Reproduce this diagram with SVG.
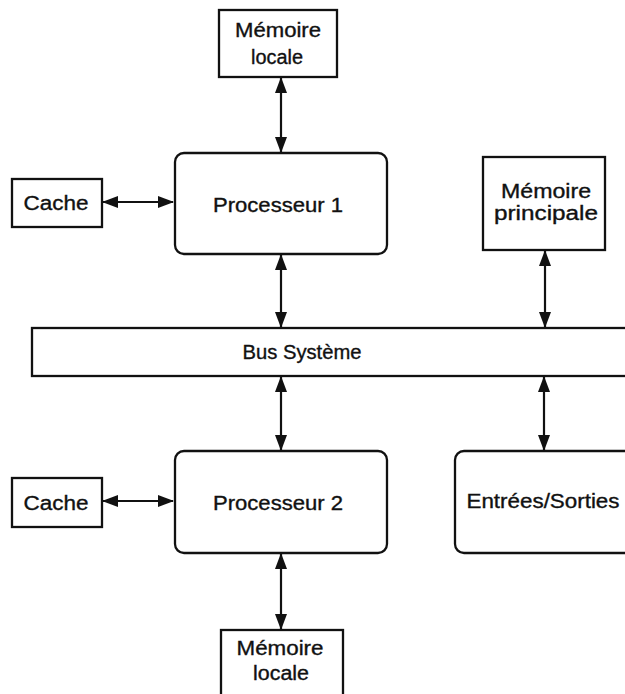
<svg xmlns="http://www.w3.org/2000/svg" width="625" height="694" viewBox="0 0 625 694">
<style>
.box{fill:#fff;stroke:#111;stroke-width:2.3}
.t{font-family:"Liberation Sans",Arial,sans-serif;font-size:20px;fill:#111;stroke:#111;stroke-width:0.35;text-anchor:middle}
.c{stroke:#111;stroke-width:2.2;fill:none;marker-start:url(#ah);marker-end:url(#ah)}
</style>
<defs>
<marker id="ah" viewBox="0 0 16 12" refX="15" refY="6" markerWidth="16" markerHeight="12" markerUnits="userSpaceOnUse" orient="auto-start-reverse">
<path d="M0,0 L16,6 L0,12 Z" fill="#111"/>
</marker>
</defs>
<rect width="625" height="694" fill="#fff"/>
<g id="connectors">
<line class="c" x1="281" y1="78" x2="281" y2="152"/>
<line class="c" x1="281" y1="255" x2="281" y2="327"/>
<line class="c" x1="545" y1="251" x2="545" y2="327"/>
<line class="c" x1="281" y1="377" x2="281" y2="450"/>
<line class="c" x1="544" y1="377" x2="544" y2="450"/>
<line class="c" x1="103" y1="202" x2="173" y2="202"/>
<line class="c" x1="103" y1="501" x2="173" y2="501"/>
<line class="c" x1="281" y1="554" x2="281" y2="629"/>
</g>
<g id="memoire-locale-1">
<rect class="box" x="219" y="10" width="118" height="67"/>
<text class="t" x="278" y="37" textLength="86" lengthAdjust="spacingAndGlyphs">Mémoire</text>
<text class="t" x="277" y="64" textLength="52" lengthAdjust="spacingAndGlyphs">locale</text>
</g>
<g id="cache-1">
<rect class="box" x="12" y="179" width="90" height="48"/>
<text class="t" x="56" y="210" textLength="65" lengthAdjust="spacingAndGlyphs">Cache</text>
</g>
<g id="processeur-1">
<rect class="box" x="175" y="153" width="212" height="101" rx="9"/>
<text class="t" x="278" y="212" textLength="130" lengthAdjust="spacingAndGlyphs">Processeur 1</text>
</g>
<g id="memoire-principale">
<rect class="box" x="483" y="157" width="122" height="93"/>
<text class="t" x="546" y="198" textLength="90" lengthAdjust="spacingAndGlyphs">Mémoire</text>
<text class="t" x="546" y="220" textLength="104" lengthAdjust="spacingAndGlyphs">principale</text>
</g>
<g id="bus-systeme">
<rect class="box" x="32" y="328" width="610" height="48"/>
<text class="t" x="302" y="359" textLength="119" lengthAdjust="spacingAndGlyphs">Bus Système</text>
</g>
<g id="cache-2">
<rect class="box" x="12" y="478" width="90" height="49"/>
<text class="t" x="56" y="510" textLength="65" lengthAdjust="spacingAndGlyphs">Cache</text>
</g>
<g id="processeur-2">
<rect class="box" x="175" y="451" width="212" height="102" rx="9"/>
<text class="t" x="278" y="510" textLength="130" lengthAdjust="spacingAndGlyphs">Processeur 2</text>
</g>
<g id="entrees-sorties">
<rect class="box" x="455" y="451" width="185" height="102" rx="9"/>
<text class="t" x="543" y="508" textLength="153" lengthAdjust="spacingAndGlyphs">Entrées/Sorties</text>
</g>
<g id="memoire-locale-2">
<rect class="box" x="221" y="630" width="122" height="80"/>
<text class="t" x="280" y="655" textLength="87" lengthAdjust="spacingAndGlyphs">Mémoire</text>
<text class="t" x="281" y="680" textLength="56" lengthAdjust="spacingAndGlyphs">locale</text>
</g>
</svg>
